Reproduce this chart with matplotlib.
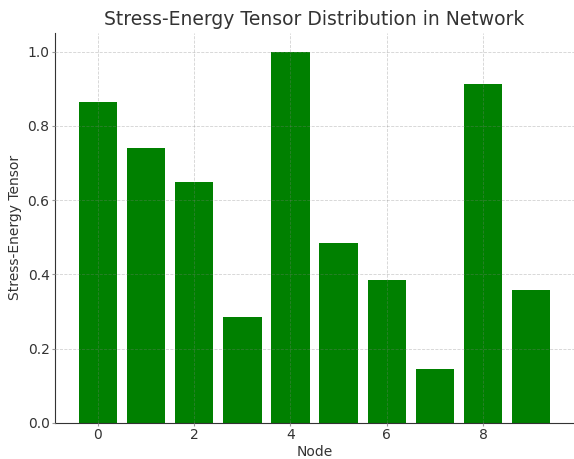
import numpy as np
import matplotlib
matplotlib.use("Agg")
import matplotlib.pyplot as plt

nodes = np.arange(10)
stress_energy = [0.865, 0.740, 0.650, 0.285, 0.998, 0.485, 0.385, 0.145, 0.912, 0.357]

fig, ax = plt.subplots(figsize=(5.74, 4.59), dpi=100)
fig.subplots_adjust(left=0.096, right=1.0, top=0.928, bottom=0.079)

ax.bar(nodes, stress_energy, color="green")
# grid drawn over the bars, semi-transparent
ax.grid(True, linestyle="--", color="#808080", alpha=0.35, linewidth=0.6)
ax.set_axisbelow(False)

ax.set_title("Stress-Energy Tensor Distribution in Network", fontsize=13.5, color="#333333")
ax.set_xlabel("Node", fontsize=10, color="#333333", labelpad=2)
ax.set_ylabel("Stress-Energy Tensor", fontsize=10, color="#333333", labelpad=4)
ax.tick_params(labelsize=10, labelcolor="#333333", color="#999999", length=2.5, pad=1.5)
ax.spines["top"].set_visible(False)
ax.spines["right"].set_visible(False)
for s in ["left", "bottom"]:
    ax.spines[s].set_color("#333333")
ax.set_ylim(0, 1.05)

fig.savefig("out.png", dpi=100)
